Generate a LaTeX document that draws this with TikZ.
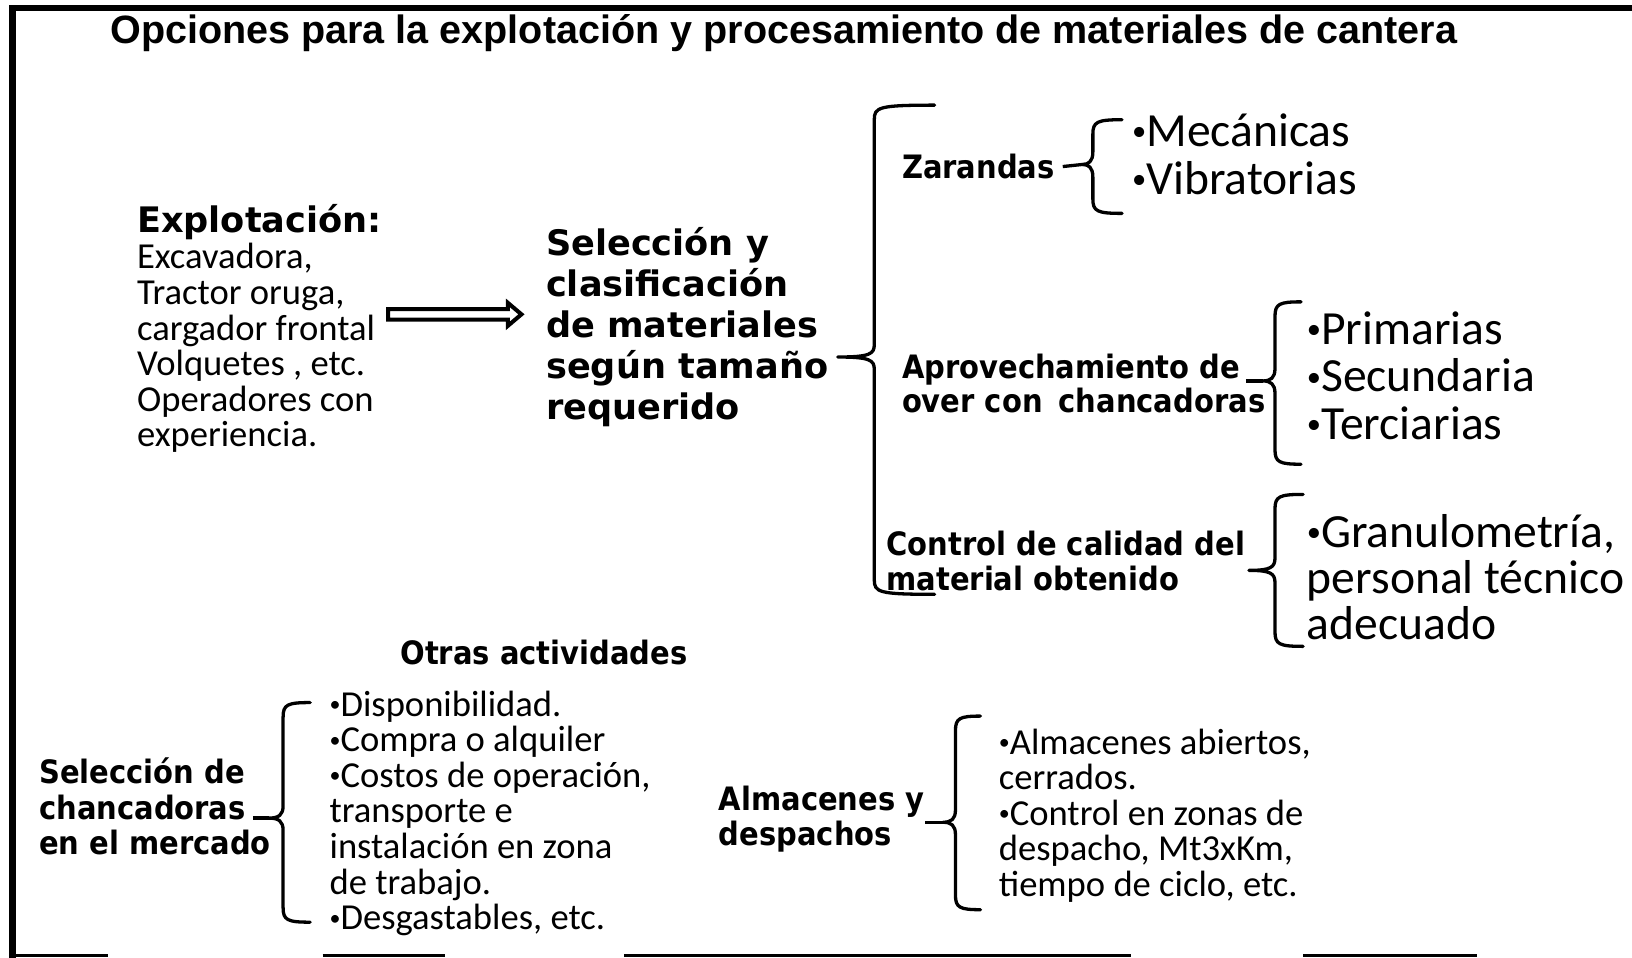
\documentclass[tikz,border=0pt]{standalone}
\usepackage{graphicx}
\usepackage{fontspec}
\setmainfont{Carlito}
\newfontfamily\negrita{DejaVu Sans}
\newfontfamily\estrecha{DejaVu Sans}[FakeStretch=0.9]
\newfontfamily\titulofont{Liberation Sans}
\usetikzlibrary{positioning}
\usetikzlibrary{calc}

\newcommand{\vi}{\raisebox{0.25ex}{\scalebox{0.6}{•}}}
% llave: x, arriba, punta, abajo, ancho, salida, nombre de la punta
\newcommand{\llave}[7]{%
	\draw[brazo] (#1+#5,#2) .. controls (#1+4,#2) and (#1,#2+2) .. (#1,#2+14)
	-- (#1,#3-12) .. controls (#1,#3-3) and (#1-4,#3) .. (#1-#6,#3) coordinate (#7)
	.. controls (#1-4,#3) and (#1,#3+3) .. (#1,#3+12)
	-- (#1,#4-14) .. controls (#1,#4-2) and (#1+4,#4) .. (#1+#5,#4);}

\tikzset{
	titulo/.style={font=\titulofont\bfseries\fontsize{10.8}{13}\selectfont, inner sep=0pt},
	cabeza/.style={font=\negrita\bfseries\fontsize{9.6}{11.2}\selectfont, align=left, inner sep=0pt, anchor=west},
	rotulo/.style={font=\estrecha\bfseries\fontsize{8.8}{#1}\selectfont, align=left, inner sep=0pt, anchor=west},
	rotulo/.default=9.6,
	lista/.style={font=\fontsize{10}{9.73}\selectfont, align=left, inner sep=0pt, anchor=west},
	listagrande/.style={font=\fontsize{13}{#1}\selectfont, align=left, inner sep=0pt, anchor=west},
	listagrande/.default=12.9,
	brazo/.style={line width=0.9pt, line cap=round, line join=round},
	conector/.style={line width=0.9pt},
	marco/.style={line width=1.7pt},
}

\begin{document}
\begin{tikzpicture}[x=0.01cm, y=-0.01cm]
	\useasboundingbox (0,0) rectangle (1568,920);
	
	%marco
	\draw[marco] (1568,8) -- (12,8) -- (12,920);
	\draw[line width=0.8pt] (12,918) -- (104,918);
	\draw[line width=0.8pt] (310,918) -- (428,918);
	\draw[line width=0.8pt] (600,918) -- (1087,918);
	\draw[line width=0.8pt] (1252,918) -- (1419,918);
	
	%titulo
	\node[titulo] (titulo) at (753,32) {Opciones para la explotación y procesamiento de materiales de cantera};
	
	%explotacion
	\node[cabeza] (explo) at (131,213) {Explotación:};
	\node[lista] (exploLista) at (131,334.5) {Excavadora,\\Tractor oruga,\\cargador frontal\\Volquetes , etc.\\Operadores con\\experiencia.};
	\coordinate (fl1) at (373,302);
	\coordinate (fl2) at (501,302);
	\draw[line width=1.1pt, line join=miter] ($(fl1)+(0,-5)$) -- ($(fl2)+(-13,-5)$) -- ($(fl2)+(-13,-11)$) -- (fl2)
		-- ($(fl2)+(-13,11)$) -- ($(fl2)+(-13,5)$) -- ($(fl1)+(0,5)$) -- cycle;
	
	%seleccion
	\node[cabeza] (selec) at (524,314.5) {Selección y\\clasificación\\de materiales\\según tamaño\\requerido};
	\llave{840}{101}{343}{571}{58}{35}{tA}
	
	%zarandas
	\node[rotulo] (zar) at (866,160) {Zarandas};
	\llave{1050}{115}{158}{205}{28}{10}{tB}
	\draw[conector] ([xshift=2pt]zar.east) -- (tB);
	\node[listagrande=13.1] (zarItems) at (1087,148) {\vi Mecánicas\\\vi Vibratorias};
	
	%chancadoras
	\node[rotulo=9.4] (aprov) at (866,368.5) {Aprovechamiento de\\over con\hspace{0.5em}chancadoras};
	\llave{1225}{290}{366}{446}{25}{12}{tC}
	\coordinate (cC) at (1197,366);
	\draw[conector] (cC) -- (tC);
	\node[listagrande=12.95] (aprovItems) at (1255,361) {\vi Primarias\\\vi Secundaria\\\vi Terciarias};
	
	%control de calidad
	\node[rotulo=9.7] (control) at (851,539) {Control de calidad del\\material obtenido};
	\llave{1225}{475}{548}{621}{27}{25}{tD}
	\node[listagrande=12.66] (controlItems) at (1255,554.5) {\vi Granulometría,\\personal técnico\\adecuado};
	
	%otras actividades
	\node[rotulo] (otras) at (384,627) {Otras actividades};
	
	\node[rotulo=9.7] (chanc) at (37,775) {Selección de\\chancadoras\\en el mercado};
	\llave{272}{675}{786}{886}{26}{14}{tE}
	\coordinate (cE) at (243,786);
	\draw[conector] (cE) -- (tE);
	\node[lista] (chancItems) at (316,781.5) {\vi Disponibilidad.\\\vi Compra o alquiler\\\vi Costos de operación,\\transporte e\\instalación en zona\\de trabajo.\\\vi Desgastables, etc.};
	
	\node[rotulo=9.7] (alma) at (690,787) {Almacenes y\\despachos};
	\llave{918}{688}{790}{874}{24}{12}{tF}
	\coordinate (cF) at (889,790);
	\draw[conector] (cF) -- (tF);
	\node[lista] (almaItems) at (959,783.5) {\vi Almacenes abiertos,\\cerrados.\\\vi Control en zonas de\\despacho, Mt3xKm,\\tiempo de ciclo, etc.};
\end{tikzpicture}
\end{document}
